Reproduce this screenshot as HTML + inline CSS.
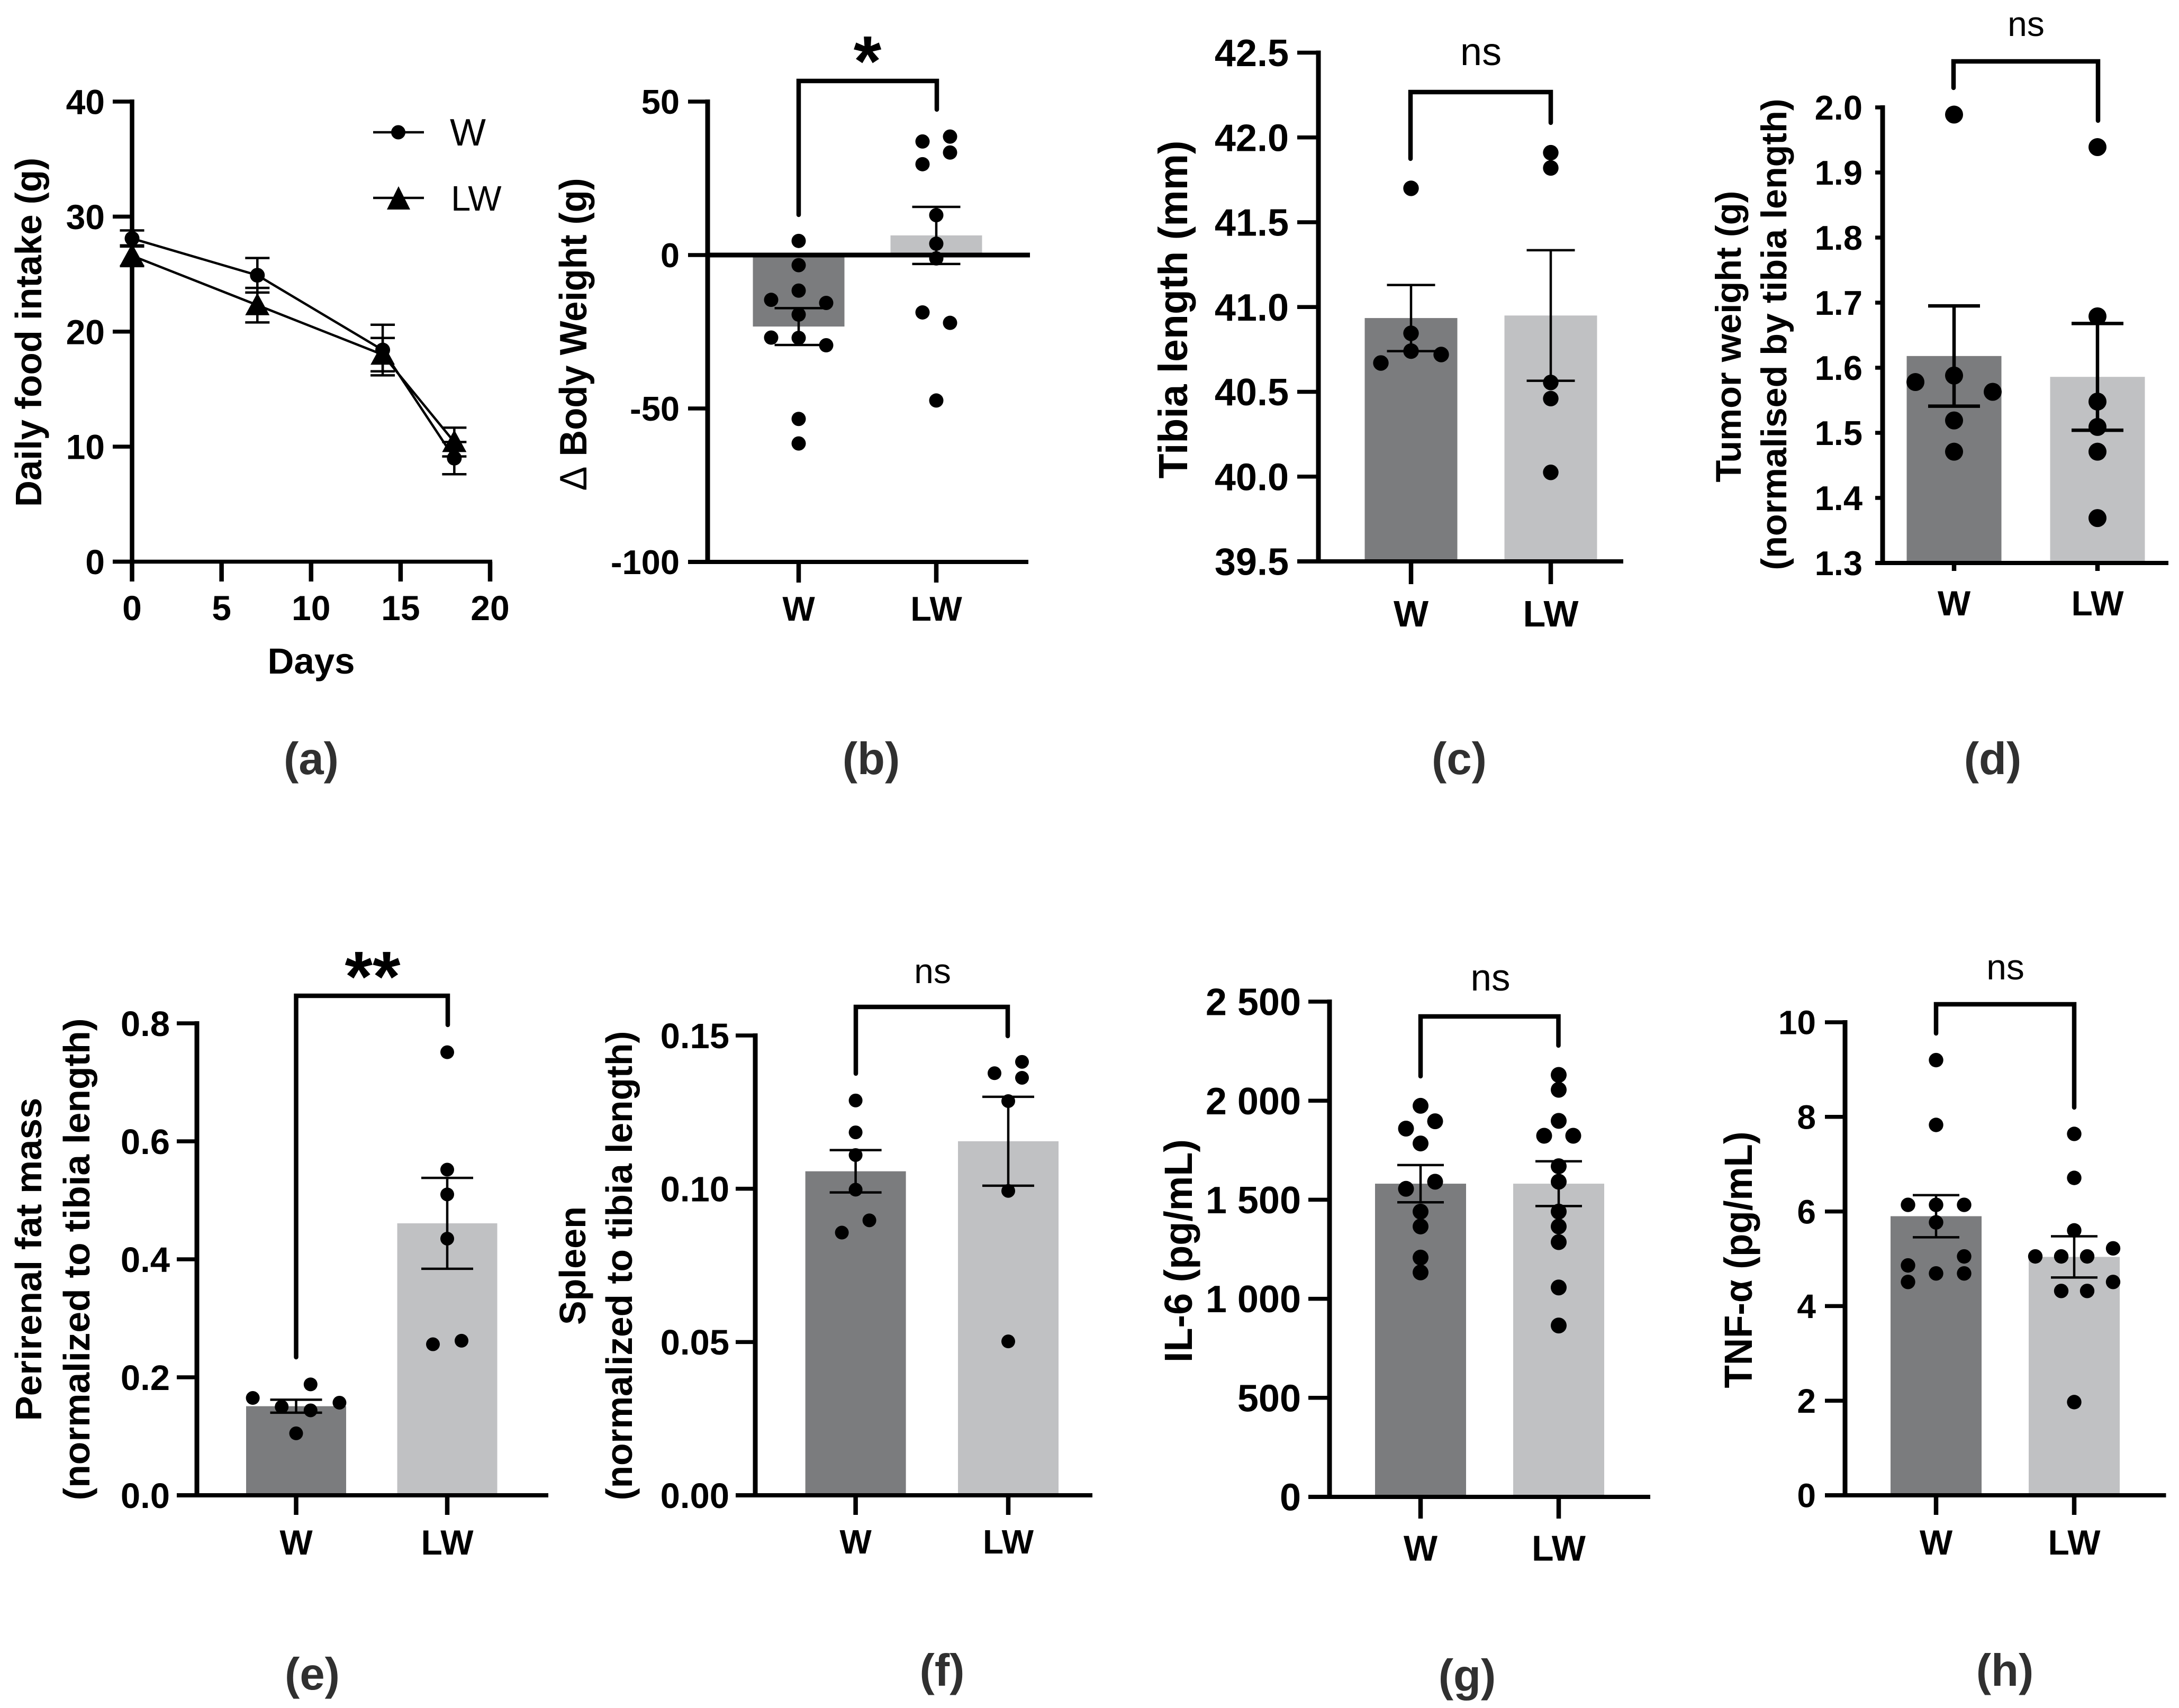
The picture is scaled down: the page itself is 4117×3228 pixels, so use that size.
<!DOCTYPE html>
<html lang="en">
<head>
<meta charset="utf-8">
<title>Food intake, body weight, tissue mass and cytokine panels</title>
<style>
  html, body { margin: 0; padding: 0; background: #fff; }
  svg { display: block; }
  text { font-family: "Liberation Sans", sans-serif; fill: #000; }
  .b { font-weight: 700; }
  .plabel { font-weight: 700; fill: #303030; font-size: 85px; text-anchor: middle; }
  .ytitle { font-weight: 700; text-anchor: middle; }
  .ns { text-anchor: middle; font-weight: 400; }
  .star { text-anchor: middle; font-weight: 700; }
  .bracket { fill: none; stroke: #000; stroke-width: 8.5; stroke-linejoin: miter; stroke-linecap: round; }
</style>
</head>
<body>
<svg id="figure" xmlns="http://www.w3.org/2000/svg" width="4117" height="3228" viewBox="0 0 4117 3228">
  <rect width="4117" height="3228" fill="#fff"/>

  <g id="panel-a">
    <text class="ytitle" x="78" y="628" font-size="70" transform="rotate(-90 78 628)" textLength="660" lengthAdjust="spacingAndGlyphs">Daily food intake (g)</text>
    <text class="b" x="588" y="1273" font-size="69" text-anchor="middle">Days</text>
    <g>
      <line x1="705" x2="801" y1="250" y2="250" stroke="#000" stroke-width="4.5"/>
      <circle cx="752.5" cy="250" r="13.5" fill="#000"/>
      <text x="850" y="275" font-size="72">W</text>
      <line x1="705" x2="801" y1="374" y2="374" stroke="#000" stroke-width="4.5"/>
      <polygon points="753,352 775,396 731,396" fill="#000"/>
      <text x="852" y="398" font-size="67">LW</text>
    </g>
  </g>
  <text class="plabel" x="588" y="1463">(a)</text>

  <g id="panel-b">
    <text class="ytitle" x="1108" y="632" font-size="72" transform="rotate(-90 1108 632)" textLength="591" lengthAdjust="spacingAndGlyphs"><tspan font-weight="400">Δ</tspan> Body Weight (g)</text>
    <path class="bracket" d="M1509 406 V153 H1770 V207"/>
    <text class="star" x="1639" y="162" font-size="135">*</text>
  </g>
  <text class="plabel" x="1646" y="1463">(b)</text>

  <g id="panel-c">
    <text class="ytitle" x="2243" y="585" font-size="77" transform="rotate(-90 2243 585)" textLength="639" lengthAdjust="spacingAndGlyphs">Tibia length (mm)</text>
    <path class="bracket" d="M2665 300 V174 H2930 V232"/>
    <text class="ns" x="2798" y="123" font-size="74">ns</text>
  </g>
  <text class="plabel" x="2757" y="1463">(c)</text>

  <g id="panel-d">
    <text class="ytitle" x="3289" y="636" font-size="68" transform="rotate(-90 3289 636)" textLength="551" lengthAdjust="spacingAndGlyphs">Tumor weight (g)</text>
    <text class="ytitle" x="3375" y="632" font-size="68" transform="rotate(-90 3375 632)" textLength="891" lengthAdjust="spacingAndGlyphs">(normalised by tibia length)</text>
    <path class="bracket" d="M3691 166 V116 H3964 V228"/>
    <text class="ns" x="3828" y="68" font-size="66">ns</text>
  </g>
  <text class="plabel" x="3765" y="1463">(d)</text>

  <g id="panel-e">
    <text class="ytitle" x="78" y="2380" font-size="70" transform="rotate(-90 78 2380)" textLength="611" lengthAdjust="spacingAndGlyphs">Perirenal fat mass</text>
    <text class="ytitle" x="169" y="2380" font-size="70" transform="rotate(-90 169 2380)" textLength="911" lengthAdjust="spacingAndGlyphs">(normalized to tibia length)</text>
    <path class="bracket" d="M559.5 2565 V1882 H846 V1937"/>
    <text class="star" x="704" y="1892" font-size="135">**</text>
  </g>
  <text class="plabel" x="590" y="3193">(e)</text>

  <g id="panel-f">
    <text class="ytitle" x="1106" y="2392" font-size="70" transform="rotate(-90 1106 2392)" textLength="224" lengthAdjust="spacingAndGlyphs">Spleen</text>
    <text class="ytitle" x="1194" y="2392" font-size="70" transform="rotate(-90 1194 2392)" textLength="887" lengthAdjust="spacingAndGlyphs">(normalized to tibia length)</text>
    <path class="bracket" d="M1617 2029 V1903 H1904 V1958"/>
    <text class="ns" x="1762" y="1858" font-size="66">ns</text>
  </g>
  <text class="plabel" x="1780" y="3186">(f)</text>

  <g id="panel-g">
    <text class="ytitle" x="2252" y="2364" font-size="74" transform="rotate(-90 2252 2364)" textLength="422" lengthAdjust="spacingAndGlyphs">IL-6 (pg/mL)</text>
    <path class="bracket" d="M2684 2034 V1921 H2944.5 V1976"/>
    <text class="ns" x="2816" y="1872" font-size="71">ns</text>
  </g>
  <text class="plabel" x="2772" y="3196">(g)</text>

  <g id="panel-h">
    <text class="ytitle" x="3310" y="2381" font-size="74" transform="rotate(-90 3310 2381)" textLength="485" lengthAdjust="spacingAndGlyphs">TNF-α (pg/mL)</text>
    <path class="bracket" d="M3658 1953 V1898 H3919 V2093"/>
    <text class="ns" x="3789" y="1851" font-size="68">ns</text>
  </g>
  <text class="plabel" x="3788" y="3186">(h)</text>
</svg>

<script>
/* ---------- shared categories ---------- */
const groups = ['W', 'LW'];

/* ---------- panel a: line chart ---------- */
const aDays = [0, 7, 14, 18];
const aWMeans = [28.1, 24.9, 18.4, 9.0];
const aWSems = [0.7, 1.5, 2.2, 1.4];
const aLWMeans = [26.6, 22.3, 18.0, 10.4];
const aLWSems = [0.9, 1.5, 1.45, 1.25];
const aYTicks = [0, 10, 20, 30, 40];
const aXTicks = [0, 5, 10, 15, 20];

/* ---------- panel b ---------- */
const bYTicks = [50, 0, -50, -100];
const bYLabels = ['50', '0', '-50', '-100'];
const bMeans = [-23.3, 6.4];
const bSems = [6.0, 9.3];
const bWDots = [4.6, -3.3, -11.6, -14.6, -15.6, -19.4, -26.9, -27, -29.4, -53.4, -61.4];
const bWCols = [0, 0, 0, -1, 1, 0, -1, 0, 1, 0, 0];
const bLWDots = [38.6, 37, 33.4, 29.6, 13, 3.7, -1.1, -18.7, -22.1, -47.4];
const bLWCols = [1, -1, 1, -1, 0, 0, 0, -1, 1, 0];

/* ---------- panel c ---------- */
const cYTicks = [39.5, 40, 40.5, 41, 41.5, 42, 42.5];
const cYLabels = ['39.5', '40.0', '40.5', '41.0', '41.5', '42.0', '42.5'];
const cMeans = [40.935, 40.95];
const cSems = [0.195, 0.385];
const cWDots = [41.70, 40.845, 40.74, 40.72, 40.67];
const cWCols = [0, 0, 0, 1, -1];
const cLWDots = [41.91, 41.82, 40.555, 40.46, 40.025];
const cLWCols = [0, 0, 0, 0, 0];

/* ---------- panel d ---------- */
const dYTicks = [1.3, 1.4, 1.5, 1.6, 1.7, 1.8, 1.9, 2.0];
const dYLabels = ['1.3', '1.4', '1.5', '1.6', '1.7', '1.8', '1.9', '2.0'];
const dMeans = [1.618, 1.586];
const dSems = [0.077, 0.082];
const dWDots = [1.989, 1.588, 1.578, 1.563, 1.519, 1.471];
const dWCols = [0, 0, -1, 1, 0, 0];
const dLWDots = [1.939, 1.679, 1.548, 1.509, 1.471, 1.369];
const dLWCols = [0, 0, 0, 0, 0, 0];

/* ---------- panel e ---------- */
const eYTicks = [0, 0.2, 0.4, 0.6, 0.8];
const eYLabels = ['0.0', '0.2', '0.4', '0.6', '0.8'];
const eMeans = [0.151, 0.461];
const eSems = [0.011, 0.077];
const eWDots = [0.188, 0.165, 0.157, 0.15, 0.144, 0.105];
const eWCols = [1, -3, 3, -1, 1, 0];
const eLWDots = [0.751, 0.552, 0.51, 0.435, 0.262, 0.256];
const eLWCols = [0, 0, 0, 0, 1, -1];

/* ---------- panel f ---------- */
const fYTicks = [0, 0.05, 0.1, 0.15];
const fYLabels = ['0.00', '0.05', '0.10', '0.15'];
const fMeans = [0.1057, 0.1155];
const fSems = [0.0069, 0.0145];
const fWDots = [0.1288, 0.1184, 0.111, 0.0997, 0.0897, 0.0857];
const fWCols = [0, 0, 0, 0, 1, -1];
const fLWDots = [0.1414, 0.1377, 0.1362, 0.1286, 0.0993, 0.0502];
const fLWCols = [1, -1, 1, 0, 0, 0];

/* ---------- panel g ---------- */
const gYTicks = [0, 500, 1000, 1500, 2000, 2500];
const gYLabels = ['0', '500', '1 000', '1 500', '2 000', '2 500'];
const gMeans = [1581, 1581];
const gSems = [94, 113];
const gWDots = [1974, 1896, 1859, 1784, 1591, 1555, 1440, 1365, 1208, 1133];
const gWCols = [0, 1, -1, 0, 1, -1, 0, 0, 0, 0];
const gLWDots = [2130, 2055, 1898, 1823, 1823, 1669, 1591, 1440, 1365, 1286, 1057, 865];
const gLWCols = [0, 0, 0, -1, 1, 0, 0, 0, 0, 0, 0, 0];

/* ---------- panel h ---------- */
const hYTicks = [0, 2, 4, 6, 8, 10];
const hYLabels = ['0', '2', '4', '6', '8', '10'];
const hMeans = [5.90, 5.04];
const hSems = [0.445, 0.435];
const hWDots = [9.2, 7.83, 6.14, 6.14, 6.14, 5.77, 5.05, 4.86, 4.69, 4.69, 4.51];
const hWCols = [0, 0, -1, 0, 1, 0, 1, -1, 0, 1, -1];
const hLWDots = [7.64, 6.71, 5.6, 5.22, 5.05, 5.05, 5.05, 4.51, 4.32, 4.32, 1.97];
const hLWCols = [0, 0, 0, 3, -3, -1, 1, 3, -1, 1, 0];

const NS = 'http://www.w3.org/2000/svg';
const barColors = ['#7b7c7e', '#c0c1c3'];

function mk(parent, tag, attrs, text) {
  const el = document.createElementNS(NS, tag);
  for (const k in attrs) el.setAttribute(k, attrs[k]);
  if (text !== undefined) el.textContent = text;
  parent.appendChild(el);
  return el;
}

function hline(parent, x1, x2, y, w) {
  return mk(parent, 'line', { x1: x1, x2: x2, y1: y, y2: y, stroke: '#000', 'stroke-width': w });
}
function vline(parent, x, y1, y2, w) {
  return mk(parent, 'line', { x1: x, x2: x, y1: y1, y2: y2, stroke: '#000', 'stroke-width': w });
}

function drawBarChart(panelId, L, ticks, tickLabels, means, sems, dots, cols) {
  const g = document.getElementById(panelId);
  const y = v => L.yBottom + (v - L.yMin) * (L.yTop - L.yBottom) / (L.yMax - L.yMin);
  const x = i => L.cat0 + i * (L.cat1 - L.cat0);
  const base = y(L.yMin > 0 ? L.yMin : Math.max(0, L.yMin));

  groups.forEach((name, i) => {
    const top = y(means[i]);
    const bar = mk(g, 'rect', { x: x(i) - L.barW / 2 + L.barDx[i], y: Math.min(top, base), width: L.barW, height: Math.abs(base - top), fill: barColors[i] });
    
    
  });

  const yAxis = vline(g, L.axisX, L.yTop - 4, L.yBottom + 4, 9);
  
  
  const xAxis = hline(g, L.tickStart, L.right, L.yBottom, 8);
  
  

  ticks.forEach((t, i) => {
    const tick = hline(g, L.tickStart, L.axisX, y(t), 7.5);
    
    
    const lab = mk(g, 'text', { x: L.labelRight, y: y(t) + L.yFont * 0.355, 'font-size': L.yFont, 'text-anchor': 'end', 'font-weight': 700 }, tickLabels[i]);
    
    
  });

  groups.forEach((name, i) => {
    const tick = vline(g, x(i), L.yBottom, L.tickEnd, 8.5);
    
    
    const lab = mk(g, 'text', { x: x(i), y: L.xLabelY, 'font-size': L.xFont, 'text-anchor': 'middle', 'font-weight': 700 }, name);
    
    
  });

  if (L.zeroLine) {
    const zero = hline(g, L.axisX, L.zeroLine, y(0), 9);
    
    
  }

  groups.forEach((name, i) => {
    const hi = y(means[i] + sems[i]);
    const lo = y(means[i] - sems[i]);
    const stem = vline(g, x(i), hi, lo, L.errW);
    
    
    const capHi = hline(g, x(i) - L.cap / 2, x(i) + L.cap / 2, hi, L.errW);
    
    
    const capLo = hline(g, x(i) - L.cap / 2, x(i) + L.cap / 2, lo, L.errW);
    
    

    dots[i].forEach((v, j) => {
      const dot = mk(g, 'circle', { cx: x(i) + cols[i][j] * L.step[i], cy: y(v), r: L.r, fill: '#000' });
      
      
    });
  });
}

function drawLineChart() {
  const g = document.getElementById('panel-a');
  const X0 = 249.5, X1 = 926, Y0 = 1061.5, Y1 = 192;
  const x = d => X0 + d * (X1 - X0) / 20;
  const y = v => Y0 + v * (Y1 - Y0) / 40;

  const yAxis = vline(g, X0, Y1 - 4, Y0 + 4, 8.5);
  
  
  const xAxis = hline(g, 213, X1 + 4, Y0, 7.5);
  
  

  aYTicks.forEach(t => {
    const tick = hline(g, 213, X0, y(t), 7.5);
    
    
    const lab = mk(g, 'text', { x: 198, y: y(t) + 23.5, 'font-size': 66, 'text-anchor': 'end', 'font-weight': 700 }, String(t));
    
    
  });
  aXTicks.forEach(t => {
    const tick = vline(g, x(t), Y0, 1099, 8.5);
    
    
    const lab = mk(g, 'text', { x: x(t), y: 1172, 'font-size': 66, 'text-anchor': 'middle', 'font-weight': 700 }, String(t));
    
    
  });

  [[aWMeans, aWSems, 'w'], [aLWMeans, aLWSems, 'lw']].forEach(s => {
    const means = s[0], sems = s[1], id = s[2];
    const pts = aDays.map((d, i) => x(d) + ',' + y(means[i])).join(' ');
    const line = mk(g, 'polyline', { points: pts, fill: 'none', stroke: '#000', 'stroke-width': 4.5 });
    
    
    aDays.forEach((d, i) => {
      const hi = y(means[i] + sems[i]);
      const lo = y(means[i] - sems[i]);
      const stem = vline(g, x(d), hi, lo, 4.5);
      
      
      const capHi = hline(g, x(d) - 23, x(d) + 23, hi, 4.5);
      
      
      const capLo = hline(g, x(d) - 23, x(d) + 23, lo, 4.5);
      
      
    });
  });

  aDays.forEach((d, i) => {
    const c = mk(g, 'circle', { cx: x(d), cy: y(aWMeans[i]), r: 14, fill: '#000' });
    
    
  });
  aDays.forEach((d, i) => {
    const cx = x(d), cy = y(aLWMeans[i]);
    const pts = cx + ',' + (cy - 23) + ' ' + (cx + 23) + ',' + (cy + 19) + ' ' + (cx - 23) + ',' + (cy + 19);
    const t = mk(g, 'polygon', { points: pts, fill: '#000' });
    
    
  });
}

drawLineChart();

drawBarChart('panel-b', { axisX: 1337, yTop: 192, yBottom: 1062, yMax: 50, yMin: -100, tickStart: 1300, right: 1943, cat0: 1509, cat1: 1769, barW: 173, barDx: [0, 0], tickEnd: 1101, labelRight: 1284, yFont: 65, xFont: 65, xLabelY: 1173, r: 13.5, cap: 91, errW: 4.5, step: [52, 26] },
  bYTicks, bYLabels, bMeans, bSems, [bWDots, bLWDots], [bWCols, bLWCols]);
</script>
<script>
drawBarChart('panel-c', { axisX: 2491, yTop: 99.5, yBottom: 1061, yMax: 42.5, yMin: 39.5, tickStart: 2451, right: 3067, cat0: 2666, cat1: 2930, barW: 175, barDx: [0, 0], tickEnd: 1104, labelRight: 2435, yFont: 72, xFont: 70, xLabelY: 1184, r: 14.7, cap: 91, errW: 4.5, step: [57, 57] },
  cYTicks, cYLabels, cMeans, cSems, [cWDots, cLWDots], [cWCols, cLWCols]);

drawBarChart('panel-d', { axisX: 3557, yTop: 203, yBottom: 1064, yMax: 2.0, yMin: 1.3, tickStart: 3543, right: 4097, cat0: 3692, cat1: 3963, barW: 179, barDx: [0, 0], tickEnd: 1079, labelRight: 3519, yFont: 65, xFont: 66, xLabelY: 1163, r: 17, cap: 98, errW: 6.5, step: [73, 73] },
  dYTicks, dYLabels, dMeans, dSems, [dWDots, dLWDots], [dWCols, dLWCols]);

drawBarChart('panel-e', { axisX: 372, yTop: 1934, yBottom: 2826, yMax: 0.8, yMin: 0, tickStart: 334, right: 1036, cat0: 559.5, cat1: 845, barW: 189, barDx: [0, 0], tickEnd: 2863, labelRight: 321, yFont: 67, xFont: 66, xLabelY: 2938, r: 13, cap: 98, errW: 4.5, step: [27.3, 27] },
  eYTicks, eYLabels, eMeans, eSems, [eWDots, eLWDots], [eWCols, eLWCols]);

drawBarChart('panel-f', { axisX: 1427, yTop: 1957, yBottom: 2826, yMax: 0.15, yMin: 0, tickStart: 1390, right: 2064, cat0: 1616.6, cat1: 1905, barW: 190, barDx: [0, 0], tickEnd: 2863, labelRight: 1378, yFont: 67, xFont: 64, xLabelY: 2936, r: 13, cap: 98, errW: 4.5, step: [26, 26] },
  fYTicks, fYLabels, fMeans, fSems, [fWDots, fLWDots], [fWCols, fLWCols]);

drawBarChart('panel-g', { axisX: 2512, yTop: 1893, yBottom: 2829, yMax: 2500, yMin: 0, tickStart: 2472, right: 3118, cat0: 2684, cat1: 2945, barW: 172, barDx: [0, 0], tickEnd: 2870, labelRight: 2458, yFont: 72, xFont: 68, xLabelY: 2949.5, r: 15, cap: 88, errW: 4.5, step: [27.5, 27.5] },
  gYTicks, gYLabels, gMeans, gSems, [gWDots, gLWDots], [gWCols, gLWCols]);

drawBarChart('panel-h', { axisX: 3486, yTop: 1932, yBottom: 2826, yMax: 10, yMin: 0, tickStart: 3448, right: 4092.5, cat0: 3658, cat1: 3919, barW: 172, barDx: [0, 0], tickEnd: 2863, labelRight: 3431, yFont: 64, xFont: 66, xLabelY: 2938, r: 13.7, cap: 88, errW: 4.5, step: [53, 24.5] },
  hYTicks, hYLabels, hMeans, hSems, [hWDots, hLWDots], [hWCols, hLWCols]);

/* zero reference line drawn last on the body-weight panel, beneath nothing else */
const bZeroLine = document.createElementNS(NS, 'line');
bZeroLine.setAttribute('x1', 1337);
bZeroLine.setAttribute('x2', 1946);
bZeroLine.setAttribute('y1', 1062 + (0 - (-100)) * (192 - 1062) / 150);
bZeroLine.setAttribute('y2', 1062 + (0 - (-100)) * (192 - 1062) / 150);
bZeroLine.setAttribute('stroke', '#000');
bZeroLine.setAttribute('stroke-width', 9);


document.getElementById('panel-b').appendChild(bZeroLine);
</script>
</body>
</html>
